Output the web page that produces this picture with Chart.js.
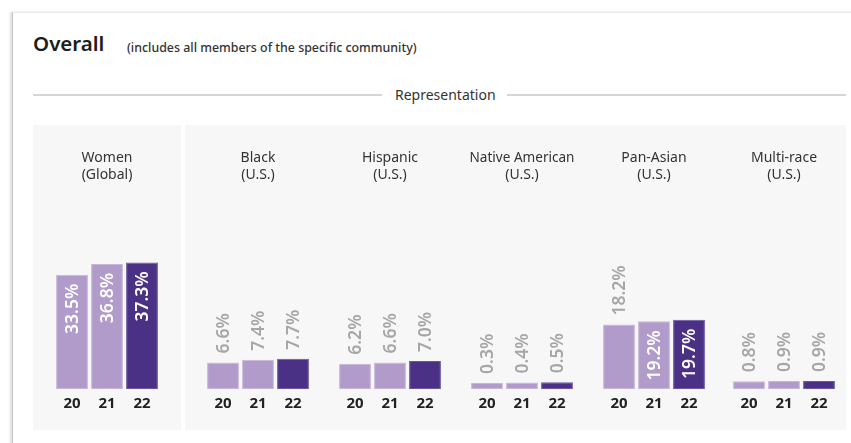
<!DOCTYPE html>
<html>
<head>
<meta charset="utf-8">
<script src="https://cdn.jsdelivr.net/npm/chart.js@4/dist/chart.umd.min.js"></script>
<style>
  html, body { margin: 0; padding: 0; background: #fff; }
  body { width: 851px; height: 443px; overflow: hidden; position: relative; font-family: "Noto Sans", sans-serif; }
  .card { position: absolute; left: 12px; top: 12px; width: 860px; height: 460px; background: #fff;
          border-left: 1px solid #c4c4c4; border-top: 1px solid #ececec; box-shadow: -2px 0 2px rgba(0,0,0,0.12); }
  .title { position: absolute; left: 33px; top: 29px; font-size: 20.5px; font-weight: 600; color: #1c1c1c; }
  .sub { position: absolute; left: 127px; top: 39px; font-size: 12.4px; font-weight: 500; color: #333; }
  .rule { position: absolute; top: 94px; height: 2px; background: #d6d6d6; }
  .rep { position: absolute; left: 395px; top: 85px; font-size: 14px; color: #333; }
  .panel { position: absolute; top: 125px; height: 305px; background: #f7f7f7; }
  canvas { position: absolute; top: 140px; }
</style>
</head>
<body>
<div class="card"></div>
<div class="title">Overall</div>
<div class="sub">(includes all members of the specific community)</div>
<div class="rule" style="left:33px;width:349px"></div>
<div class="rep">Representation</div>
<div class="rule" style="left:507px;width:339px"></div>
<div class="panel" style="left:33px;width:148px"></div>
<div class="panel" style="left:185px;width:661px"></div>

<canvas id="c0" width="132" height="279" style="left:41px"></canvas>
<canvas id="c1" width="132" height="279" style="left:192px"></canvas>
<canvas id="c2" width="132" height="279" style="left:324px"></canvas>
<canvas id="c3" width="132" height="279" style="left:456px"></canvas>
<canvas id="c4" width="132" height="279" style="left:588px"></canvas>
<canvas id="c5" width="132" height="279" style="left:718px"></canvas>

<script>
// data
const years = ["20", "21", "22"];
const groupNames = [
  ["Women", "(Global)"],
  ["Black", "(U.S.)"],
  ["Hispanic", "(U.S.)"],
  ["Native American", "(U.S.)"],
  ["Pan-Asian", "(U.S.)"],
  ["Multi-race", "(U.S.)"],
];
const women = [33.5, 36.8, 37.3];
const black = [6.6, 7.4, 7.7];
const hispanic = [6.2, 6.6, 7.0];
const nativeAmerican = [0.3, 0.4, 0.5];
const panAsian = [18.2, 19.2, 19.7];
const multiRace = [0.8, 0.9, 0.9];
const groupValues = [women, black, hispanic, nativeAmerican, panAsian, multiRace];

const LIGHT = "#b09bcb";
const DARK = "#4a3186";
const FONT = "'Noto Sans', sans-serif";

// labels rotated on bars: inside when the bar is tall enough, above otherwise
const barLabels = {
  id: "barLabels",
  afterDatasetsDraw(chart) {
    const ctx = chart.ctx;
    const ds = chart.data.datasets[0];
    const meta = chart.getDatasetMeta(0);
    ctx.save();
    ctx.font = "600 17.5px " + FONT;
    ctx.textBaseline = "middle";
    meta.data.forEach((bar, i) => {
      const text = ds.data[i].toFixed(1) + "%";
      const w = ctx.measureText(text).width;
      const h = bar.base - bar.y;
      ctx.save();
      if (h >= w + 15) {
        ctx.translate(bar.x, bar.y + 9);
        ctx.rotate(-Math.PI / 2);
        ctx.textAlign = "right";
        ctx.fillStyle = "#ffffff";
      } else {
        ctx.translate(bar.x, bar.y - 9);
        ctx.rotate(-Math.PI / 2);
        ctx.textAlign = "left";
        ctx.fillStyle = "#a6a6a6";
      }
      ctx.fillText(text, 0, 1);
      ctx.restore();
    });
    ctx.restore();
  },
};

groupValues.forEach((vals, g) => {
  new Chart(document.getElementById("c" + g), {
    type: "bar",
    data: {
      labels: years,
      datasets: [
        {
          data: vals,
          base: -1.56,
          backgroundColor: [LIGHT, LIGHT, DARK],
          borderColor: ["#c5b7da", "#c5b7da", "#6a56a0"],
          borderWidth: 1,
          borderSkipped: false,
          barPercentage: 0.91,
          categoryPercentage: 1,
        },
      ],
    },
    options: {
      responsive: false,
      animation: false,
      devicePixelRatio: 1,
      layout: { padding: { left: 13.5, right: 13.5, top: 0, bottom: 0 } },
      plugins: {
        legend: { display: false },
        tooltip: { enabled: false },
        title: {
          display: true,
          text: groupNames[g],
          color: "#333",
          font: { family: FONT, size: 14, weight: "normal", lineHeight: 1.2 },
          padding: { top: 10, bottom: 70 },
        },
      },
      scales: {
        x: {
          grid: { display: false, drawTicks: false },
          border: { display: false },
          ticks: { color: "#222", padding: 6, font: { family: FONT, size: 15, weight: "bold", lineHeight: 1.2 } },
        },
        y: { display: false, min: -1.56, max: 40 },
      },
    },
    plugins: [barLabels],
  });
});
</script>
</body>
</html>
